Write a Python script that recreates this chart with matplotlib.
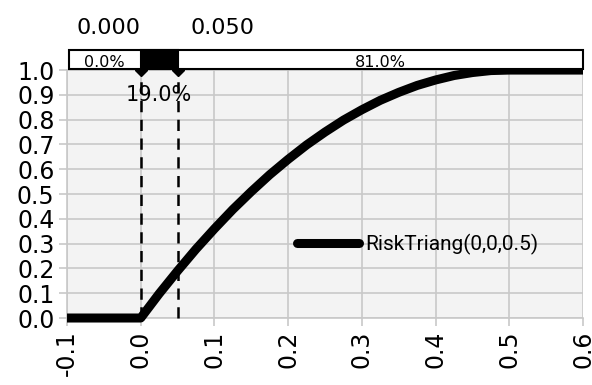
import matplotlib
matplotlib.use("Agg")
import matplotlib.pyplot as plt
from matplotlib.patches import Rectangle

# データ
cdf_x = [-0.1, 0.0, 0.0125, 0.025, 0.0375, 0.05, 0.0625, 0.075, 0.0875, 0.1,
         0.1125, 0.125, 0.1375, 0.15, 0.1625, 0.175, 0.1875, 0.2, 0.2125, 0.225,
         0.2375, 0.25, 0.2625, 0.275, 0.2875, 0.3, 0.3125, 0.325, 0.3375, 0.35,
         0.3625, 0.375, 0.3875, 0.4, 0.4125, 0.425, 0.4375, 0.45, 0.4625, 0.475,
         0.4875, 0.5, 0.6]
cdf_y = [0.0, 0.0, 0.049, 0.098, 0.144, 0.190, 0.234, 0.278, 0.319, 0.360,
         0.399, 0.438, 0.474, 0.510, 0.544, 0.578, 0.609, 0.640, 0.669, 0.698,
         0.724, 0.750, 0.774, 0.798, 0.819, 0.840, 0.859, 0.878, 0.894, 0.910,
         0.924, 0.938, 0.949, 0.960, 0.969, 0.978, 0.984, 0.990, 0.994, 0.998,
         0.999, 1.0, 1.0]
series_label = "RiskTriang(0,0,0.5)"
bounds = [0.0, 0.05]
bound_labels = ["0.000", "0.050"]
pct_left, pct_mid, pct_right = "0.0%", "19.0%", "81.0%"
x_ticks = [-0.1, 0.0, 0.1, 0.2, 0.3, 0.4, 0.5, 0.6]
y_ticks = [0.0, 0.1, 0.2, 0.3, 0.4, 0.5, 0.6, 0.7, 0.8, 0.9, 1.0]

grid_col = "#c8c8c8"

fig = plt.figure(figsize=(5.92, 3.85), dpi=100)
ax = fig.add_axes([0.1132, 0.174, 0.8716, 0.644])
ax.set_facecolor("#f3f3f3")

# 分布曲線
ax.plot(cdf_x, cdf_y, color="black", lw=6.5, solid_capstyle="butt",
        solid_joinstyle="round", clip_on=False, label=series_label, zorder=4)

# 区切り線
for b in bounds:
    ax.plot([b, b], [0, 1.0], color="black", lw=1.8, ls=(0, (4.5, 3)),
            clip_on=False, zorder=3)
    ax.plot([b], [1.0], marker="D", color="black", ms=6, clip_on=False, zorder=6)

ax.set_xlim(x_ticks[0], x_ticks[-1])
ax.set_ylim(0, 1.0)
ax.set_xticks(x_ticks)
ax.set_yticks(y_ticks)
ax.set_xticklabels([f"{v:.1f}" for v in x_ticks], rotation=90, fontsize=17)
ax.set_yticklabels([f"{v:.1f}" for v in y_ticks], fontsize=17)
ax.tick_params(axis="both", color=grid_col, length=6, width=1.2, pad=3)
ax.grid(True, color=grid_col, lw=1.2)
ax.set_axisbelow(True)
for s in ["top", "right"]:
    ax.spines[s].set_visible(False)
for s in ["left", "bottom"]:
    ax.spines[s].set_color(grid_col)
    ax.spines[s].set_linewidth(1.2)

ax.text(sum(bounds) / 2, 0.9, pct_mid, ha="center", va="center", fontsize=15,
        zorder=7)

# 凡例
leg = ax.legend(loc="center left", bbox_to_anchor=(0.445, 0.295), frameon=False,
                borderpad=0, borderaxespad=0, handlelength=3.0, handletextpad=0.3,
                prop={"family": "Roboto", "size": 15})
for h in leg.get_lines():
    h.set_solid_capstyle("round")

# 上部の帯
bar = fig.add_axes([0.1132, 0.8208, 0.8716, 0.0494])
bar.set_xlim(x_ticks[0], x_ticks[-1])
bar.set_ylim(0, 1)
bar.axis("off")
bar.add_patch(Rectangle((x_ticks[0] + 0.003, 0), x_ticks[-1] - x_ticks[0] - 0.003, 1,
                        facecolor="white", edgecolor="black", lw=1.5, clip_on=False))
bar.add_patch(Rectangle((bounds[0], 0), bounds[1] - bounds[0], 1,
                        facecolor="black", edgecolor="black", lw=1.5, clip_on=False))
bar.text((x_ticks[0] + bounds[0]) / 2, 0.35, pct_left, ha="center", va="center",
         fontsize=11.5)
bar.text((bounds[1] + x_ticks[-1]) / 2, 0.35, pct_right, ha="center", va="center",
         fontsize=11.5)

# 上部の境界値
bar.annotate(bound_labels[0], xy=(bounds[0], 1), xycoords="data",
             xytext=(0, 16), textcoords="offset points", ha="right", va="center",
             fontsize=16)
bar.annotate(bound_labels[1], xy=(bounds[1], 1), xycoords="data",
             xytext=(9, 16), textcoords="offset points", ha="left", va="center",
             fontsize=16)

fig.savefig("out.png", dpi=100)
plt.close(fig)
